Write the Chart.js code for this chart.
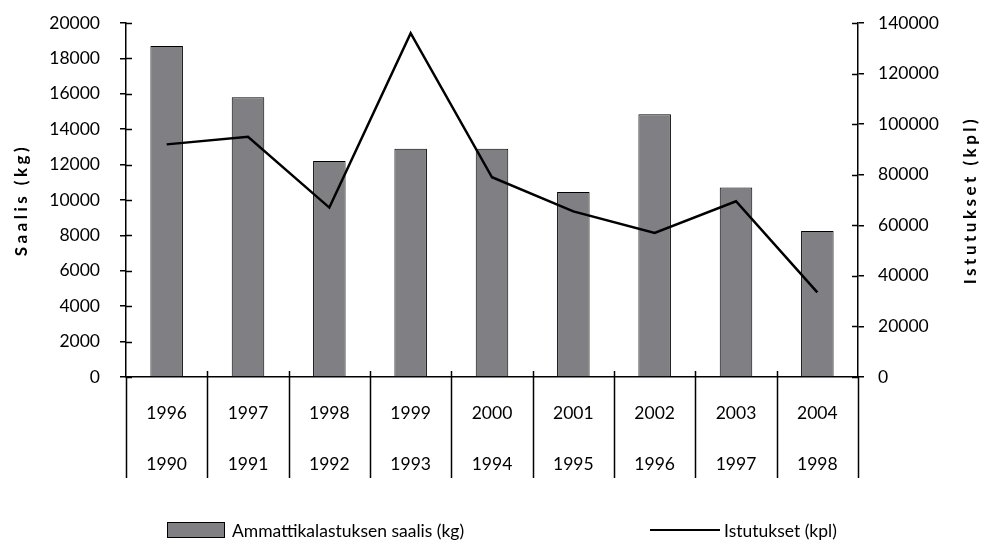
<!DOCTYPE html>
<html>
<head>
<meta charset="utf-8">
<script src="https://cdn.jsdelivr.net/npm/chart.js@4"></script>
<style>
    html, body { margin: 0; padding: 0; background: #fff; }
    #wrap { position: relative; width: 987px; height: 542px; }
    #legend { position: absolute; left: 0; top: 520px; width: 987px; height: 20px; font-family: Lato, sans-serif; font-size: 17.5px; color: #000; }
    .lg-item { position: absolute; top: 0; display: flex; align-items: center; height: 20px; }
    .lg-box { width: 56px; height: 14px; background: #808084; border: 1px solid #000; margin-right: 7px; }
    .lg-line { width: 70px; height: 0; border-top: 2.5px solid #000; margin-right: 4px; }
</style>
</head>
<body>
<div id="wrap">
    <canvas id="chart" width="987" height="542"></canvas>
    <div id="legend">
        <div class="lg-item" style="left:167px"><span class="lg-box"></span><span>Ammattikalastuksen saalis (kg)</span></div>
        <div class="lg-item" style="left:650px"><span class="lg-line"></span><span>Istutukset (kpl)</span></div>
    </div>
</div>
<script>
const catchYears = ['1996', '1997', '1998', '1999', '2000', '2001', '2002', '2003', '2004'];
const stockYears = ['1990', '1991', '1992', '1993', '1994', '1995', '1996', '1997', '1998'];
const catchKg = [18700, 15800, 12200, 12900, 12900, 10450, 14850, 10700, 8250];
const stockedPcs = [92000, 95000, 67000, 136000, 79000, 65500, 57000, 69500, 33500];
const leftTicks = [0, 2000, 4000, 6000, 8000, 10000, 12000, 14000, 16000, 18000, 20000];
const rightTicks = [0, 20000, 40000, 60000, 80000, 100000, 120000, 140000];

const labels = catchYears.map((y, i) => [y, stockYears[i]]);
const FONT = 'Lato, sans-serif';

const decor = {
    id: 'decor',
    afterDraw(chart) {
        const ctx = chart.ctx;
        const area = chart.chartArea;
        const x = chart.scales.x;
        const yl = chart.scales.y;
        const yr = chart.scales.y1;
        ctx.save();
        ctx.strokeStyle = '#000';
        ctx.lineWidth = 1.5;
        // inner halves of the y tick marks
        ctx.beginPath();
        leftTicks.forEach((v) => {
            const p = Math.round(yl.getPixelForValue(v)) + 0.5;
            ctx.moveTo(area.left, p);
            ctx.lineTo(area.left + 6, p);
        });
        rightTicks.forEach((v) => {
            const p = Math.round(yr.getPixelForValue(v)) + 0.5;
            ctx.moveTo(area.right, p);
            ctx.lineTo(area.right - 6, p);
        });
        ctx.stroke();
        // category separators below the axis
        ctx.beginPath();
        const half = (x.getPixelForValue(1) - x.getPixelForValue(0)) / 2;
        for (let i = 0; i <= labels.length; i++) {
            const px = Math.round(x.getPixelForValue(0) - half + i * half * 2) + 0.5;
            ctx.moveTo(px, area.bottom - (i > 0 && i < labels.length ? 6 : 0));
            ctx.lineTo(px, x.bottom - 2);
        }
        ctx.stroke();
        // axis titles, both read bottom to top
        ctx.fillStyle = '#000';
        ctx.font = 'bold 17px ' + FONT;
        ctx.letterSpacing = '3.5px';
        ctx.textAlign = 'center';
        ctx.textBaseline = 'middle';
        const cy = (area.top + area.bottom) / 2;
        [['Saalis (kg)', 22], ['Istutukset (kpl)', 971]].forEach(([t, tx]) => {
            ctx.save();
            ctx.translate(tx, cy);
            ctx.rotate(-Math.PI / 2);
            ctx.fillText(t, 0, 0);
            ctx.restore();
        });
        ctx.restore();
    },
};

const plain = (v) => String(v);
const fitY = (w) => (s) => {
    s.width = w;
    s.paddingTop = 0;
    s.paddingBottom = 0;
};

new Chart(document.getElementById('chart'), {
    type: 'bar',
    data: {
        labels: labels,
        datasets: [{
                type: 'line',
                label: 'Istutukset (kpl)',
                data: stockedPcs,
                yAxisID: 'y1',
                borderColor: '#000',
                borderWidth: 2.5,
                pointRadius: 0,
                tension: 0,
                order: 0,
            },
            {
                label: 'Ammattikalastuksen saalis (kg)',
                data: catchKg,
                yAxisID: 'y',
                backgroundColor: '#808084',
                borderColor: '#000',
                borderWidth: 1,
                barPercentage: 0.4,
                categoryPercentage: 1,
                order: 1,
            },
        ],
    },
    options: {
        responsive: false,
        animation: false,
        layout: { autoPadding: false, padding: { top: 23, left: 0, right: 0, bottom: 62 } },
        plugins: {
            legend: { display: false },
            tooltip: { enabled: false },
        },
        scales: {
            x: {
                grid: { display: false },
                border: { color: '#000', width: 1.5 },
                ticks: {
                    color: '#000',
                    padding: 3,
                    maxRotation: 0,
                    font: { family: FONT, size: 17.5, lineHeight: 2.9 },
                },
                afterFit: (s) => { s.height = 103; },
            },
            y: {
                position: 'left',
                min: 0,
                max: 20000,
                afterBuildTicks: (s) => { s.ticks = leftTicks.map((v) => ({ value: v })); },
                grid: { drawOnChartArea: false, color: '#000', lineWidth: 1.5, tickLength: 6 },
                border: { color: '#000', width: 1.5 },
                ticks: {
                    color: '#000',
                    padding: 20,
                    callback: plain,
                    font: { family: FONT, size: 17.5 },
                },
                afterFit: fitY(126),
            },
            y1: {
                position: 'right',
                min: 0,
                max: 140000,
                afterBuildTicks: (s) => { s.ticks = rightTicks.map((v) => ({ value: v })); },
                grid: { drawOnChartArea: false, color: '#000', lineWidth: 1.5, tickLength: 6 },
                border: { color: '#000', width: 1.5 },
                ticks: {
                    color: '#000',
                    padding: 14,
                    callback: plain,
                    font: { family: FONT, size: 17.5 },
                },
                afterFit: fitY(129),
            },
        },
    },
    plugins: [decor],
});
</script>
</body>
</html>
